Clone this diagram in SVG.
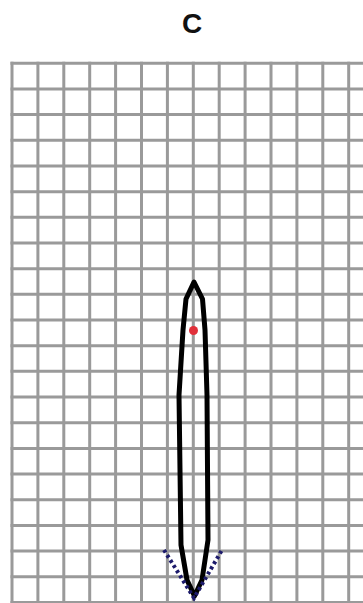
<svg xmlns="http://www.w3.org/2000/svg" width="363" height="603" viewBox="0 0 363 603">
  <style>
    .title { font-family: "Liberation Sans", Arial, sans-serif; font-weight: bold; font-size: 28px; fill: #111; }
    .grid { fill: none; stroke: #9a9a9a; stroke-width: 3; }
    .outline { fill: none; stroke: #000; stroke-width: 5; stroke-linejoin: round; }
    .dots { fill: none; stroke: #1c1a6b; stroke-width: 4; stroke-dasharray: 3 3; }
  </style>
  <rect width="363" height="603" fill="#fff"/>
  <g id="title">
    <text class="title" x="192" y="33" text-anchor="middle">C</text>
  </g>
  <g id="grid">
    <path class="grid" d="M12,61.8 V603 M37.9,61.8 V603 M63.8,61.8 V603 M89.7,61.8 V603 M115.6,61.8 V603 M141.5,61.8 V603 M167.4,61.8 V603 M193.3,61.8 V603 M219.2,61.8 V603 M245.1,61.8 V603 M271,61.8 V603 M296.9,61.8 V603 M322.8,61.8 V603 M348.7,61.8 V603"/>
    <path class="grid" d="M10.5,63.3 H363 M10.5,89 H363 M10.5,114.6 H363 M10.5,140.3 H363 M10.5,166 H363 M10.5,191.7 H363 M10.5,217.3 H363 M10.5,243 H363 M10.5,268.7 H363 M10.5,294.3 H363 M10.5,320 H363 M10.5,345.7 H363 M10.5,371.3 H363 M10.5,397 H363 M10.5,422.7 H363 M10.5,448.4 H363 M10.5,474 H363 M10.5,499.7 H363 M10.5,525.4 H363 M10.5,551 H363 M10.5,576.7 H363 M10.5,602.4 H363"/>
  </g>
  <g id="shape">
    <path class="outline" d="M194,282 L202.5,299 L205,330 L207,395 L208,540 L202,580 L194.5,596 L187,580 L181,545 L179,395 L183,330 L186,299 Z"/>
    <circle cx="193.5" cy="330.5" r="4.5" fill="#e0303a"/>
  </g>
  <g id="connectors">
    <path class="dots" d="M164,550 L194,598 L222,550"/>
  </g>
</svg>
